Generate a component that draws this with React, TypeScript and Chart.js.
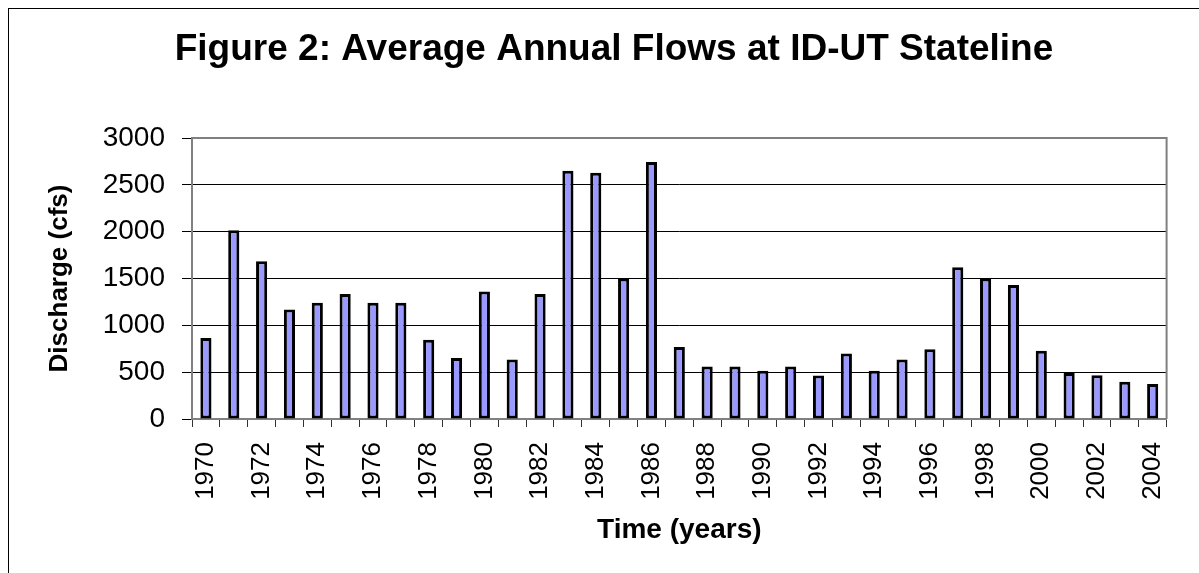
import { useEffect, useRef } from "react";
import { Chart, registerables } from "chart.js";

Chart.register(...registerables);

const chartTitle = "Figure 2: Average Annual Flows at ID-UT Stateline";
const xAxisTitle = "Time (years)";
const yAxisTitle = "Discharge (cfs)";

const years = [
  "1970", "1971", "1972", "1973", "1974", "1975", "1976", "1977", "1978", "1979",
  "1980", "1981", "1982", "1983", "1984", "1985", "1986", "1987", "1988", "1989",
  "1990", "1991", "1992", "1993", "1994", "1995", "1996", "1997", "1998", "1999",
  "2000", "2001", "2002", "2003", "2004",
];

const discharge = [
  865, 2015, 1685, 1170, 1240, 1335, 1240, 1240, 845, 650,
  1360, 635, 1335, 2650, 2630, 1500, 2745, 770, 560, 560,
  515, 560, 465, 700, 515, 635, 745, 1620, 1500, 1430,
  728, 490, 466, 398, 374,
];

const yMin = 0;
const yMax = 3000;
const yStep = 500;

const FONT = '"Liberation Sans", Arial, sans-serif';

const plotFrame = {
  id: "plotFrame",
  afterDraw(chart: any) {
    const { ctx, chartArea: a } = chart;
    ctx.save();
    ctx.strokeStyle = "#808080";
    ctx.lineWidth = 2;
    ctx.beginPath();
    ctx.moveTo(a.left, a.top);
    ctx.lineTo(a.right, a.top);
    ctx.lineTo(a.right, a.bottom);
    ctx.stroke();
    ctx.restore();
  },
};

export default function App() {
  const canvasRef = useRef<HTMLCanvasElement | null>(null);

  useEffect(() => {
    if (!canvasRef.current) return;
    const chart = new Chart(canvasRef.current, {
      type: "bar",
      data: {
        labels: years,
        datasets: [
          {
            data: discharge,
            backgroundColor: "#9999FF",
            borderColor: "#000000",
            borderWidth: 3,
            borderSkipped: false,
            barPercentage: 0.4,
            categoryPercentage: 1.0,
          },
        ],
      },
      options: {
        animation: false,
        responsive: true,
        maintainAspectRatio: false,
        layout: { padding: { left: 29, right: 9, top: 0, bottom: 0 } },
        plugins: {
          legend: { display: false },
          tooltip: { enabled: false },
          title: {
            display: true,
            text: chartTitle,
            color: "#000",
            font: { family: FONT, size: 37, weight: "bold", lineHeight: 1.2 },
            padding: { top: 19, bottom: 65.6 },
          },
        },
        scales: {
          x: {
            type: "category",
            offset: true,
            grid: {
              display: true,
              drawOnChartArea: false,
              drawTicks: true,
              tickLength: 8,
              tickColor: "#333",
              tickWidth: 1,
              offset: true,
            },
            border: { display: true, color: "#808080", width: 2 },
            ticks: {
              autoSkip: false,
              maxRotation: 90,
              minRotation: 90,
              padding: 15,
              color: "#000",
              font: { family: FONT, size: 26 },
              callback: function (this: any, value: any, index: number) {
                return index % 2 === 0 ? this.getLabelForValue(value) : "";
              },
            },
            title: {
              display: true,
              text: xAxisTitle,
              color: "#000",
              font: { family: FONT, size: 28, weight: "bold", lineHeight: 1.2 },
              padding: { top: 0, bottom: 26 },
            },
            afterFit: (s: any) => {
              s.height = 154;
            },
          },
          y: {
            min: yMin,
            max: yMax,
            grid: { color: "#000", lineWidth: 1, tickLength: 10, tickColor: "#000" },
            border: { display: true, color: "#808080", width: 2 },
            ticks: {
              stepSize: yStep,
              padding: 17,
              color: "#000",
              font: { family: FONT, size: 28 },
              callback: (value: any) => String(value),
            },
            title: {
              display: true,
              text: yAxisTitle,
              color: "#000",
              font: { family: FONT, size: 26, weight: "bold", lineHeight: 1.2 },
              padding: { top: 6, bottom: 0 },
            },
            afterFit: (s: any) => {
              s.width = 154;
            },
          },
        },
      },
      plugins: [plotFrame],
    } as any);
    return () => chart.destroy();
  }, []);

  return (
    <div
      style={{
        position: "fixed",
        left: 8,
        top: 8,
        width: 1191,
        height: 565,
        boxSizing: "border-box",
        borderLeft: "1px solid #000",
        borderTop: "1px solid #000",
        background: "#fff",
      }}
    >
      <div style={{ position: "relative", width: 1190, height: 564 }}>
        <canvas ref={canvasRef} />
      </div>
    </div>
  );
}
